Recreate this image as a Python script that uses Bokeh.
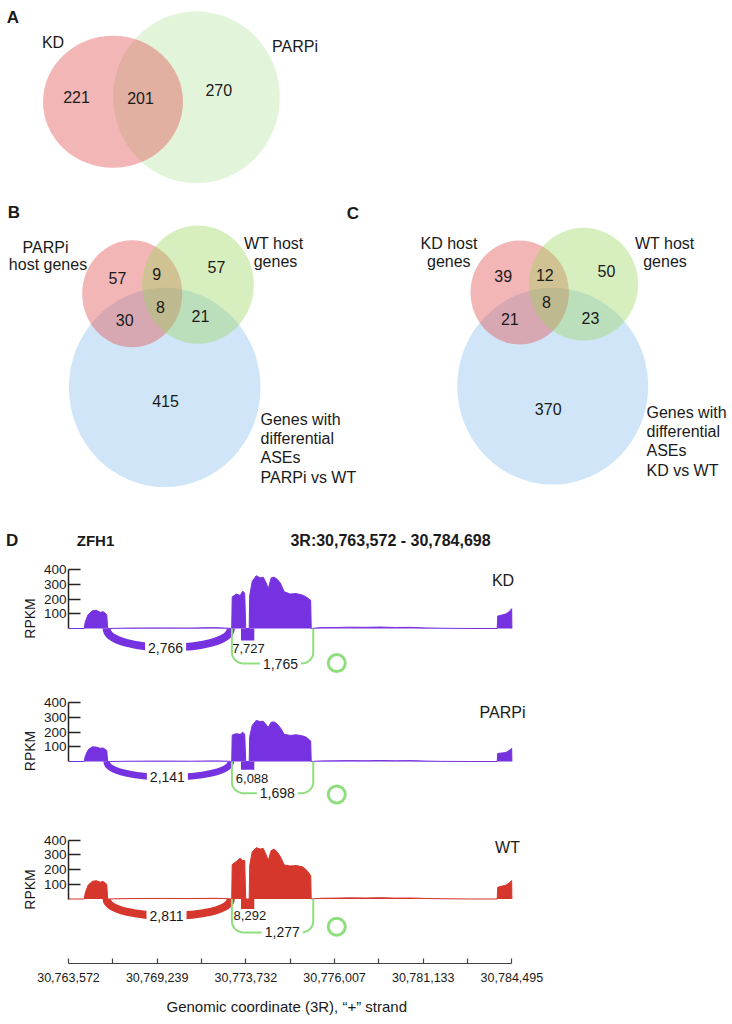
import numpy as np
from bokeh.plotting import figure
from bokeh.layouts import column, row
from bokeh.models import FixedTicker, Title
from bokeh.core.properties import value
from bokeh.embed import file_html
from bokeh.resources import INLINE

FONT = "Liberation Sans"

# ---------------- data ----------------
venn_a_sets = ["KD", "PARPi"]
venn_a_counts = [221, 201, 270]          # KD only, both, PARPi only

venn_b_sets = [["PARPi", "host genes"], ["WT host", "genes"],
               ["Genes with", "differential", "ASEs", "PARPi vs WT"]]
venn_b_counts = [57, 9, 57, 8, 30, 21, 415]   # P, P&W, W, all, P&D, W&D, D
venn_c_sets = [["KD host", "genes"], ["WT host", "genes"],
               ["Genes with", "differential", "ASEs", "KD vs WT"]]
venn_c_counts = [39, 12, 50, 8, 21, 23, 370]

gene_name = "ZFH1"
region_name = "3R:30,763,572 - 30,784,698"
samples = ["KD", "PARPi", "WT"]

axis_ticks = [0, 2, 4, 6, 8, 10]
axis_minor = [1, 3, 5, 7, 9]
axis_tick_labels = ["30,763,572", "30,769,239", "30,773,732",
                    "30,776,007", "30,781,133", "30,784,495"]
axis_title = "Genomic coordinate (3R), \u201c+\u201d strand"
rpkm_ticks = [100, 200, 300, 400]

cov_x = [0.0, 0.354, 0.377, 0.444, 0.535, 0.625, 0.715, 0.783, 0.862, 0.884,
         1.39, 2.07, 2.745, 3.31, 3.60,
         3.681, 3.692, 3.782, 3.872, 3.929, 3.974, 3.997,
         4.075, 4.087, 4.143, 4.233, 4.323, 4.391, 4.459, 4.504, 4.571, 4.639,
         4.707, 4.776, 4.866, 5.001, 5.137, 5.272, 5.362, 5.462, 5.474,
         5.69, 6.03, 6.353, 6.69, 7.03, 7.37, 7.71, 8.045, 8.384, 9.06,
         9.668, 9.68, 9.781, 9.871, 9.939, 9.995, 10.0]
cov_kd = [0, 0, 45, 95, 120, 125, 110, 115, 95, 0,
          3, 4, 3, 6, 2,
          0, 215, 235, 225, 255, 240, 0,
          0, 225, 320, 360, 345, 350, 310, 270, 345, 350,
          335, 310, 250, 235, 238, 228, 215, 192, 0,
          6, 7, 9, 8, 10, 7, 8, 4, 2, 0,
          0, 85, 92, 100, 115, 135, 0]
cov_parpi = [0, 0, 35, 80, 100, 98, 90, 92, 75, 0,
             2, 3, 2, 4, 2,
             0, 180, 190, 185, 200, 185, 0,
             0, 170, 245, 280, 272, 275, 250, 232, 268, 270,
             255, 230, 185, 178, 182, 175, 165, 140, 0,
             4, 5, 6, 5, 7, 5, 6, 3, 1, 0,
             0, 55, 58, 62, 75, 90, 0]
cov_wt = [0, 0, 40, 95, 120, 125, 115, 120, 100, 0,
          3, 4, 3, 5, 2,
          0, 235, 255, 278, 262, 262, 0,
          0, 230, 320, 350, 340, 345, 300, 262, 330, 340,
          320, 290, 232, 225, 228, 220, 200, 160, 0,
          5, 6, 8, 7, 9, 6, 7, 4, 2, 0,
          0, 80, 88, 95, 110, 125, 0]

junc_start = [0.86, 3.89, 3.685]
junc_end = [3.66, 4.19, 5.52]
junc_kd = ["2,766", "7,727", "1,765"]
junc_parpi = ["2,141", "6,088", "1,698"]
junc_wt = ["2,811", "8,292", "1,277"]
circle_x = [6.05]

# ---------------- styles / layout ----------------
PINK = "#e14848"
GREEN_A = "#b6e6a2"
GREEN_B = "#9bd45c"
BLUE = "#89c0ed"
PURPLE = "#7632e0"
RED = "#d6372d"
JGREEN = "#8fde7d"
TXT = "#1a1a1a"

PX100 = 14.67
PPX = 100.0 / PX100      # RPKM per pixel
UPX = 44.34              # pixels per axis unit
W = 732
LEFT = 68
VF = "16px"


def txt(p, x, y, t, size=VF, bold=False, align="center", **kw):
    p.text(x=[x], y=[y], text=[t], text_font=value(FONT), text_font_size=size,
           text_font_style="bold" if bold else "normal", text_align=align,
           text_baseline="middle", text_color=TXT, **kw)


def bracket(x0, x1, depth, rx, ry):
    """Rounded bracket path under the baseline for a junction from x0 to x1."""
    t = np.linspace(0, np.pi / 2, 9)
    lx = x0 + rx * (1 - np.cos(t))
    ly = -(depth - ry) - ry * np.sin(t)
    rxs = x1 - rx * (1 - np.cos(t[::-1]))
    rys = -(depth - ry) - ry * np.sin(t[::-1])
    xs = [x0] + list(lx) + list(rxs) + [x1]
    ys = [0] + list(ly) + list(rys) + [0]
    return xs, ys


# Venn figure: data coordinates equal to page pixels
pv = figure(width=W, height=550, x_range=(0, W), y_range=(550, 0),
            min_border=0, toolbar_location=None, output_backend="svg",
            x_axis_location=None, y_axis_location=None)
pv.grid.visible = False
pv.outline_line_color = None

# Panel A
pv.ellipse(x=[196], y=[96.7], width=[166.7], height=[172], fill_color=GREEN_A,
           fill_alpha=0.4, line_color=None)
pv.ellipse(x=[112.5], y=[101.3], width=[140], height=[132], fill_color=PINK,
           fill_alpha=0.4, line_color=None)
txt(pv, 12.5, 17, "A", "17px", True)
txt(pv, 52.5, 42, venn_a_sets[0])
txt(pv, 294.5, 46, venn_a_sets[1])
for (x, y), c in zip([(76, 96), (140, 97.3), (218.3, 89.3)], venn_a_counts):
    txt(pv, x, y, str(c))

# Panels B and C
venn_geom = [
    dict(letter=("B", 13.3, 211.7),
         circles=[(164.2, 387, 191.7, 199.4), (131.7, 293.3, 100, 107), (197.5, 284.2, 111.7, 118.3)],
         set1=(45, 47.5, 246.7), set2=(273.3, 275, 243.3), set3=(260, 419),
         nums=[(117, 277.5), (156.3, 273), (216, 266.3), (160, 306), (124.2, 319), (200, 315.5), (165, 400)]),
    dict(letter=("C", 352.5, 213.3),
         circles=[(552.2, 385.7, 191, 196.7), (519.2, 292, 98.3, 104), (583, 283.7, 109.3, 112.7)],
         set1=(448.5, 448.3, 243.3), set2=(664.3, 664.5, 243.3), set3=(646, 412),
         nums=[(502.7, 275), (544.3, 274), (606, 270), (546, 301.7), (509.3, 318.3), (590, 317.3), (547.7, 408.3)]),
]
for g, sets, counts in zip(venn_geom, [venn_b_sets, venn_c_sets], [venn_b_counts, venn_c_counts]):
    for (cx, cy, w, h), col in zip(g["circles"], [BLUE, PINK, GREEN_B]):
        pv.ellipse(x=[cx], y=[cy], width=[w], height=[h], fill_color=col,
                   fill_alpha=0.4, line_color=None)
    l, lx, ly = g["letter"]
    txt(pv, lx, ly, l, "17px", True)
    x1, x2, y0 = g["set1"]
    txt(pv, x1, y0, sets[0][0]); txt(pv, x2, y0 + 17.5, sets[0][1])
    x1, x2, y0 = g["set2"]
    txt(pv, x1, y0, sets[1][0]); txt(pv, x2, y0 + 18, sets[1][1])
    x0, y0 = g["set3"]
    for i, line in enumerate(sets[2]):
        txt(pv, x0, y0 + 19.2 * i, line, align="left")
    for (x, y), c in zip(g["nums"], counts):
        txt(pv, x, y, str(c))

# Panel D header
txt(pv, 11.7, 540, "D", "17px", True)
txt(pv, 95, 540, gene_name, "15px", True)
txt(pv, 390, 540, region_name, "16px", True)


def track(name, color, vals, jlabels, L, top_px, bottom_px, xaxis=False):
    fw = W - LEFT
    p = figure(frame_width=fw, frame_height=int(round(top_px + bottom_px)),
               x_range=(0, fw / UPX), y_range=(-bottom_px * PPX, top_px * PPX),
               min_border_left=LEFT, min_border_right=0, min_border_top=0,
               min_border_bottom=61 if xaxis else 0,
               toolbar_location=None, output_backend="svg",
               x_axis_location="below" if xaxis else None, y_axis_location="left")
    p.grid.visible = False
    p.outline_line_color = None
    # coverage
    p.varea(x=cov_x, y1=[0] * len(cov_x), y2=vals, fill_color=color)
    p.line(cov_x, vals, line_color=color, line_width=1)
    # long junction
    s, e = junc_start[0], junc_end[0]
    d = L["j1"] * PPX / 0.75
    p.bezier(x0=[s], y0=[0], x1=[e], y1=[0], cx0=[s], cy0=[-d], cx1=[e], cy1=[-d],
             line_color=color, line_width=L["j1w"])
    txt(p, L["l1"], -L["j1"] * PPX, jlabels[0], "14px",
        background_fill_color="white", padding=3)
    # short junction
    p.quad(left=[junc_start[1]], right=[junc_end[1]], top=[0], bottom=[-L["j2"] * PPX],
           fill_color=color, line_color=None)
    txt(p, L["l2"], -L["j2l"] * PPX, jlabels[1], "13px")
    # skipping junction
    bx, by = bracket(junc_start[2], junc_end[2], L["j3"] * PPX, 12 / UPX, 11 * PPX)
    p.line(bx, by, line_color=JGREEN, line_width=2)
    txt(p, L["l3"], -L["j3"] * PPX, jlabels[2], "14px",
        background_fill_color="white", padding=3)
    p.scatter(x=circle_x, y=[-L["c"] * PPX], marker="circle", size=17,
              fill_color=None, line_color=JGREEN, line_width=3)
    txt(p, L["nx"], L["ny"] * PPX, name, "16px")
    # axes
    ya = p.yaxis[0]
    ya.ticker = FixedTicker(ticks=rpkm_ticks)
    ya.bounds = (0, 400)
    ya.axis_label = "RPKM"
    ya.axis_label_text_font = FONT
    ya.axis_label_text_font_style = "normal"
    ya.axis_label_text_font_size = "14px"
    ya.axis_label_text_color = TXT
    ya.axis_label_standoff = 3
    ya.major_label_text_font = FONT
    ya.major_label_text_font_size = "13.5px"
    ya.major_label_text_color = TXT
    ya.major_label_standoff = 2
    ya.major_tick_in = 12
    ya.major_tick_out = 0
    ya.minor_tick_in = 0
    ya.minor_tick_out = 0
    ya.axis_line_width = 1.5
    ya.major_tick_line_width = 1.5
    ya.axis_line_color = "#222222"
    ya.major_tick_line_color = "#222222"
    if xaxis:
        xa = p.xaxis[0]
        xa.ticker = FixedTicker(ticks=axis_ticks, minor_ticks=axis_minor)
        xa.major_label_overrides = dict(zip(axis_ticks, axis_tick_labels))
        xa.bounds = (0, 10)
        xa.major_label_text_font = FONT
        xa.major_label_text_font_size = "12.5px"
        xa.major_label_text_color = TXT
        xa.major_label_standoff = 9
        xa.major_tick_in = 5
        xa.major_tick_out = 0
        xa.minor_tick_in = 5
        xa.minor_tick_out = 0
        xa.axis_line_color = "#444444"
        xa.major_tick_line_color = "#444444"
        xa.minor_tick_line_color = "#444444"
        xa.axis_line_width = 1.2
        xa.major_tick_line_width = 1.2
        xa.minor_tick_line_width = 1.2
        # axis title placed under the bounded axis (x = 0..10), left-aligned with offset
        p.add_layout(Title(text=axis_title, align="left", offset=98,
                           text_font=FONT, text_font_size="15px",
                           text_font_style="normal", text_color=TXT,
                           standoff=22), "below")
    return p


L_kd = dict(j1=19, j1w=8, l1=2.19, j2=12, j2l=20, l2=4.06, j3=35, l3=4.78, c=34.6, nx=9.80, ny=48)
L_pa = dict(j1=15.7, j1w=6.5, l1=2.23, j2=8.3, j2l=16.7, l2=4.14, j3=31.7, l3=4.71, c=33, nx=9.79, ny=49.3)
L_wt = dict(j1=16.7, j1w=8, l1=2.21, j2=10, j2l=16.7, l2=4.09, j3=33.4, l3=4.82, c=27.7, nx=9.90, ny=51.6)

p_kd = track(samples[0], PURPLE, cov_kd, junc_kd, L_kd, 78, 58)
p_pa = track(samples[1], PURPLE, cov_parpi, junc_parpi, L_pa, 75, 54)
p_wt = track(samples[2], RED, cov_wt, junc_wt, L_wt, 83.5, 64.5, xaxis=True)

page = column(row(pv), column(p_kd, p_pa, p_wt, spacing=0), spacing=0)
open("out.html", "w").write(file_html(page, INLINE))
